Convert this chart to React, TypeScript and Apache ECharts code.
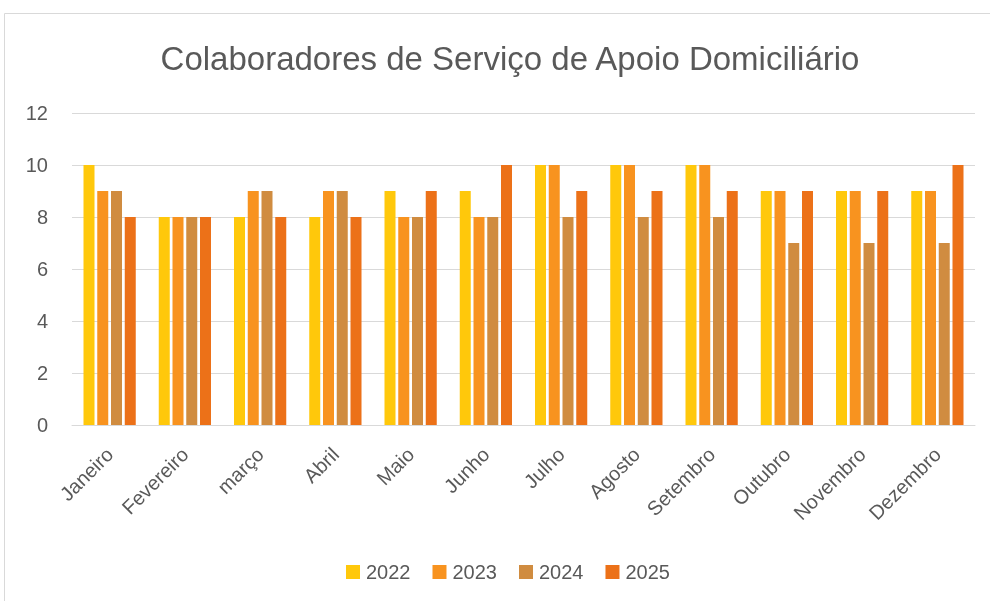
import React, { useEffect, useRef } from "react";
import * as echarts from "echarts";

const months = ["Janeiro", "Fevereiro", "março", "Abril", "Maio", "Junho", "Julho", "Agosto", "Setembro", "Outubro", "Novembro", "Dezembro"];
const years = ["2022", "2023", "2024", "2025"];
const v2022 = [10, 8, 8, 8, 9, 9, 10, 10, 10, 9, 9, 9];
const v2023 = [9, 8, 9, 9, 8, 8, 10, 10, 10, 9, 9, 9];
const v2024 = [9, 8, 9, 9, 8, 8, 8, 8, 8, 7, 7, 7];
const v2025 = [8, 8, 8, 8, 9, 10, 9, 9, 9, 9, 9, 10];
const colors = ["#FFC80B", "#F8931F", "#D08C40", "#EC7118"];

export default function App() {
  const ref = useRef<HTMLDivElement>(null);
  useEffect(() => {
    const chart = echarts.init(ref.current!, null, { renderer: "svg" });
    const seriesData = [v2022, v2023, v2024, v2025];
    const ff = "Liberation Sans, Arial, sans-serif";
    chart.setOption({
      animation: false,
      textStyle: { fontFamily: ff },
      graphic: [
        {
          type: "rect",
          shape: { x: 4.5, y: 13.5, width: 1000, height: 700 },
          style: { fill: "none", stroke: "#d9d9d9", lineWidth: 1 },
          silent: true,
        },
      ],
      title: {
        text: "Colaboradores de Serviço de Apoio Domiciliário",
        left: 505,
        top: 37,
        textAlign: "center",
        textStyle: { fontSize: 33, fontWeight: "normal", color: "#595959", fontFamily: ff },
      },
      legend: {
        data: years,
        left: 341,
        top: 557,
        itemWidth: 14,
        itemHeight: 14,
        itemGap: 22,
        icon: "rect",
        textStyle: { fontSize: 20, color: "#595959", fontFamily: ff, padding: [0, 0, 0, 1] },
      },
      grid: { left: 72, right: 15, top: 113, bottom: 176, containLabel: false },
      xAxis: {
        type: "category",
        data: months,
        axisLine: { lineStyle: { color: "#d9d9d9", width: 1 } },
        axisTick: { show: false },
        axisLabel: { rotate: 45, fontSize: 20, color: "#595959", margin: 26, interval: 0, fontFamily: ff },
      },
      yAxis: {
        type: "value",
        min: 0,
        max: 12,
        interval: 2,
        axisLine: { show: false },
        axisTick: { show: false },
        splitLine: { lineStyle: { color: "#d9d9d9", width: 1 } },
        axisLabel: { fontSize: 20, color: "#595959", margin: 24, align: "right", fontFamily: ff },
      },
      series: years.map((y, i) => ({
        name: y,
        type: "bar",
        data: seriesData[i],
        barWidth: 11,
        barGap: "25%",
        itemStyle: { color: colors[i] },
      })),
    });
    return () => chart.dispose();
  }, []);
  return <div ref={ref} style={{ position: "fixed", left: 0, top: 0, width: 990, height: 601 }} />;
}
